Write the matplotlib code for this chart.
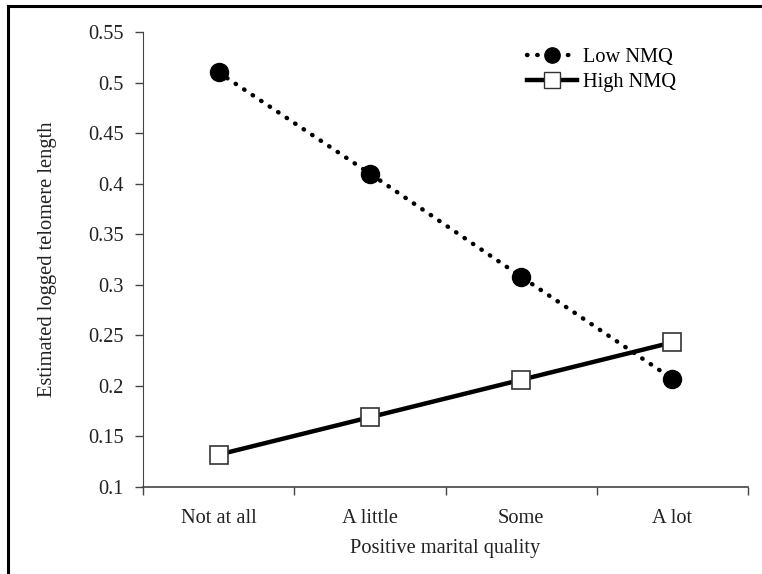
import matplotlib
matplotlib.use("Agg")
import matplotlib.pyplot as plt
from matplotlib.lines import Line2D

categories = ["Not at all", "A little", "Some", "A lot"]
low_nmq = [0.51, 0.41, 0.308, 0.207]
high_nmq = [0.132, 0.169, 0.206, 0.243]
yticks = [0.1, 0.15, 0.2, 0.25, 0.3, 0.35, 0.4, 0.45, 0.5, 0.55]
ytick_labels = ["0.1", "0.15", "0.2", "0.25", "0.3", "0.35", "0.4", "0.45", "0.5", "0.55"]

plt.rcParams['font.family'] = ['Liberation Serif', 'DejaVu Serif']
fs = 14.7

fig = plt.figure(figsize=(7.62, 5.74), dpi=100)
ax = fig.add_axes([0.1877, 0.1516, 0.7939, 0.7927])

x = list(range(len(categories)))
ax.plot(x, low_nmq, color='black', linestyle=(0, (0.1, 2.2)), linewidth=3.2,
        dash_capstyle='round', marker='o', markersize=13, markerfacecolor='black',
        label='Low NMQ')
ax.plot(x, high_nmq, color='black', linestyle='-', linewidth=3.2,
        marker='s', markersize=13, markerfacecolor='white', markeredgewidth=1.2,
        markeredgecolor='#333333', label='High NMQ')

ax.set_xlim(-0.5, len(categories) - 0.5)
ax.set_ylim(0.1, 0.55)
ax.set_yticks(yticks)
ax.set_yticklabels(ytick_labels, fontsize=fs, color='#222222')
ax.set_xticks([i - 0.5 for i in range(len(categories) + 1)], minor=False)
ax.set_xticklabels([])
ax.set_xticks(x, minor=True)
ax.set_xticklabels(categories, minor=True, fontsize=fs, color='#222222')
ax.tick_params(axis='x', which='minor', length=0, pad=16)
ax.tick_params(axis='x', which='major', length=6, width=1, color='#444444')
ax.tick_params(axis='y', length=6, width=1, color='#444444', pad=8)

for s in ['top', 'right']:
    ax.spines[s].set_visible(False)
ax.spines['left'].set_color('#444444')
ax.spines['bottom'].set_color('#444444')
ax.spines['bottom'].set_linewidth(1.2)

ax.set_xlabel('Positive marital quality', fontsize=fs, color='#222222', labelpad=8)
ax.set_ylabel('Estimated logged telomere length', fontsize=14.8, color='#222222', labelpad=22)

handles = [
    Line2D([], [], color='black', linestyle=(0, (0.1, 2.2)), linewidth=3.2,
           dash_capstyle='round', marker='o', markersize=11, markerfacecolor='black'),
    Line2D([], [], color='black', linestyle='-', linewidth=3.2, marker='s',
           markersize=11, markerfacecolor='white', markeredgecolor='#333333'),
]
fig.legend(handles, ['Low NMQ', 'High NMQ'], loc='upper left',
           bbox_to_anchor=(527 / 762, 1 - 48 / 574), frameon=False, fontsize=fs,
           borderpad=0, borderaxespad=0,
           handlelength=2.45, handletextpad=0.3, labelspacing=0.25)

# outer frame on the left and top of the figure
fig.add_artist(Line2D([0.011, 0.011], [0, 0.99], transform=fig.transFigure,
                      color='black', linewidth=2.2))
fig.add_artist(Line2D([0.011, 1.0], [0.99, 0.99], transform=fig.transFigure,
                      color='black', linewidth=2.2))

fig.savefig('out.png', dpi=100)
